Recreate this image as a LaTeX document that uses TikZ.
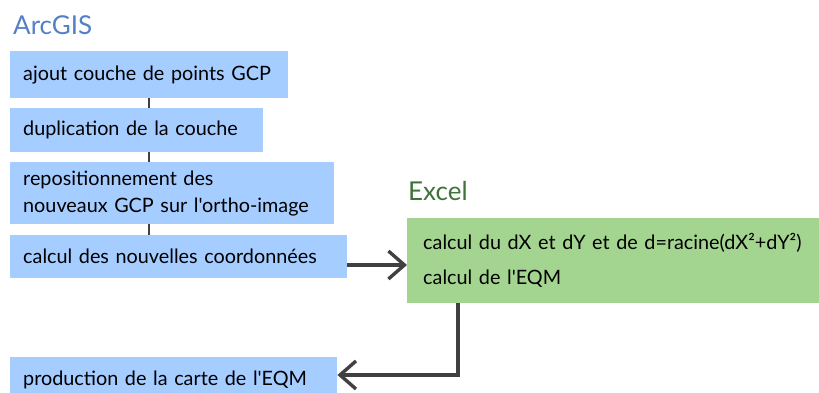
\documentclass[tikz,border=0pt]{standalone}
\usepackage{fontspec}
\setmainfont{Lato}[Ligatures=TeXOff]
\usetikzlibrary{arrows.meta}

\definecolor{boxblue}{RGB}{166,205,255}
\definecolor{boxgreen}{RGB}{164,213,144}
\definecolor{arcblue}{RGB}{84,128,200}
\definecolor{xlgreen}{RGB}{62,116,56}
\definecolor{linkgray}{RGB}{64,64,64}

\begin{document}
\begin{tikzpicture}[x=1pt,y=-1pt,
    task/.style={fill=boxblue,anchor=north west,align=left,inner xsep=13pt,inner ysep=0pt,
      font=\fontsize{19.8}{27}\selectfont},
    calc/.style={task,fill=boxgreen,inner xsep=16pt},
    head/.style={anchor=base west,inner sep=0pt,font=\fontsize{26}{30}\selectfont},
    link/.style={draw=linkgray,line width=1.6pt},
    flow/.style={draw=linkgray,line width=3.4pt,
      -{Straight Barb[length=16pt,width=28pt,line width=3.4pt]}}]

    \useasboundingbox (0,0) rectangle (819,392);

    \node[head,arcblue] (arcgis) at (13,34) {ArcGIS};
    \node[head,xlgreen] (excel) at (408,200) {Excel};

    \node[task,text width=252pt,minimum height=47pt] (b1) at (10,51) {ajout couche de points GCP};
    \node[task,text width=227pt,minimum height=44pt] (b2) at (10,108) {duplication de la couche};
    \node[task,text width=298pt,minimum height=62pt] (b3) at (10,162) {repositionnement des\\nouveaux GCP sur l'ortho-image};
    \node[task,text width=311pt,minimum height=43pt] (b4) at (10,235) {calcul des nouvelles coordonnées};
    \node[task,text width=301pt,minimum height=45pt] (b5) at (10,357) {production de la carte de l'EQM};

    \node[calc,text width=388pt,minimum height=85pt] (xl) at (407,218)
      {calcul du dX et dY et de d=racine(dX²+dY²)\\[8pt]calcul de l'EQM};

    \coordinate (spine) at (149,0);
    \coordinate (arr) at (0,265);
    \coordinate (drop) at (458,375);

    \draw[link] (spine |- b1.south) -- (spine |- b2.north);
    \draw[link] (spine |- b2.south) -- (spine |- b3.north);
    \draw[link] (spine |- b3.south) -- (spine |- b4.north);

    \draw[flow] (b4.east |- arr) -- (xl.west |- arr);
    \draw[flow] (xl.south -| drop) |- (b5.east |- drop);
  \end{tikzpicture}
\end{document}
